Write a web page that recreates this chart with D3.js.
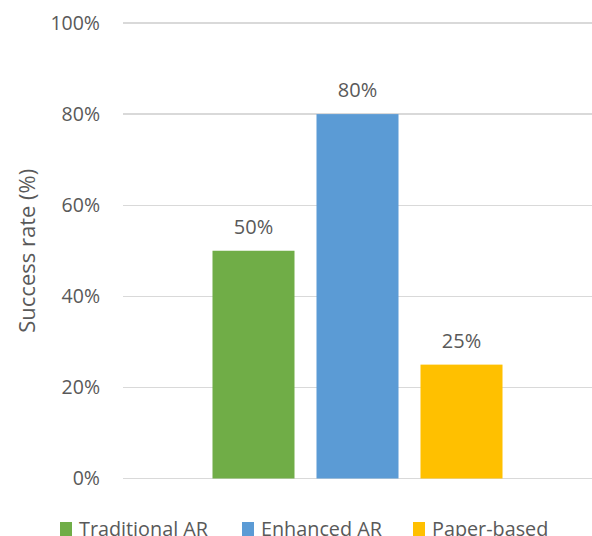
<!DOCTYPE html>
<html>
  <head>
    <meta charset="utf-8">
    <title>Success rate</title>
    <script src="https://cdn.jsdelivr.net/npm/d3@7"></script>
    <style>
body {
  margin: 0;
  background: #fff;
}

svg {
  display: block;
  font-family: "Open Sans", sans-serif;
}

.grid line {
  stroke: #d9d9d9;
  stroke-width: 1.3px;
  shape-rendering: crispEdges;
}

.tick-label, .bar-label, .legend text, .y-title {
  fill: #595959;
}

.tick-label {
  font-size: 19.5px;
}

.bar-label {
  font-size: 20px;
}

.y-title {
  font-size: 22px;
}

.legend text {
  font-size: 19.8px;
}
    </style>
  </head>
  <body>
    <script>

var series = ["Traditional AR", "Enhanced AR", "Paper-based"];
var values = [0.50, 0.80, 0.25];
var colors = ["#70ad47", "#5b9bd5", "#ffc000"];
var yTicks = [0, 0.2, 0.4, 0.6, 0.8, 1.0];
var categories = [""];

var w = 592,
    h = 536,
    plotLeft = 123,
    plotRight = 592,
    plotTop = 23,
    plotBottom = 478.5;

var y = d3.scaleLinear().domain([0, 1]).range([plotBottom, plotTop]);

var x0 = d3.scaleBand()
    .domain(categories)
    .range([plotLeft, plotRight])
    .paddingInner(0)
    .paddingOuter(0.3086);

var x1 = d3.scaleBand()
    .domain(series)
    .range([0, x0.bandwidth()])
    .paddingInner(0.2115)
    .paddingOuter(0);

var pct = d3.format(".0%");

var svg = d3.select("body")
  .append("svg")
    .attr("width", w)
    .attr("height", h);

// gridlines + tick labels
var grid = svg.append("g").attr("class", "grid");

grid.selectAll("line")
    .data(yTicks)
  .enter().append("line")
    .attr("x1", plotLeft)
    .attr("x2", plotRight)
    .attr("y1", function(d) { return y(d); })
    .attr("y2", function(d) { return y(d); });

svg.selectAll("text.tick-label")
    .data(yTicks)
  .enter().append("text")
    .attr("class", "tick-label")
    .attr("x", 100)
    .attr("y", function(d) { return y(d); })
    .attr("dy", ".35em")
    .attr("text-anchor", "end")
    .text(pct);

svg.append("text")
    .attr("class", "y-title")
    .attr("transform", "translate(35," + (plotTop + plotBottom) / 2 + ") rotate(-90)")
    .attr("text-anchor", "middle")
    .text("Success rate (%)");

// bars
var data = series.map(function(s, i) {
  return {name: s, value: values[i], color: colors[i]};
});

var g = svg.append("g")
    .attr("transform", "translate(" + x0(categories[0]) + ",0)");

g.selectAll("rect")
    .data(data)
  .enter().append("rect")
    .attr("x", function(d) { return x1(d.name); })
    .attr("width", x1.bandwidth())
    .attr("y", function(d) { return y(d.value); })
    .attr("height", function(d) { return y(0) - y(d.value); })
    .attr("fill", function(d) { return d.color; });

g.selectAll("text.bar-label")
    .data(data)
  .enter().append("text")
    .attr("class", "bar-label")
    .attr("x", function(d) { return x1(d.name) + x1.bandwidth() / 2; })
    .attr("y", function(d) { return y(d.value) - 17; })
    .attr("text-anchor", "middle")
    .text(function(d) { return pct(d.value); });

// legend
var legendX = [60, 242, 413];

var legend = svg.append("g")
    .attr("class", "legend")
  .selectAll("g")
    .data(data)
  .enter().append("g")
    .attr("transform", function(d, i) { return "translate(" + legendX[i] + ",522)"; });

legend.append("rect")
    .attr("width", 12)
    .attr("height", 14)
    .attr("fill", function(d) { return d.color; });

legend.append("text")
    .attr("x", 19)
    .attr("y", 14)
    .text(function(d) { return d.name; });

    </script>
  </body>
</html>
